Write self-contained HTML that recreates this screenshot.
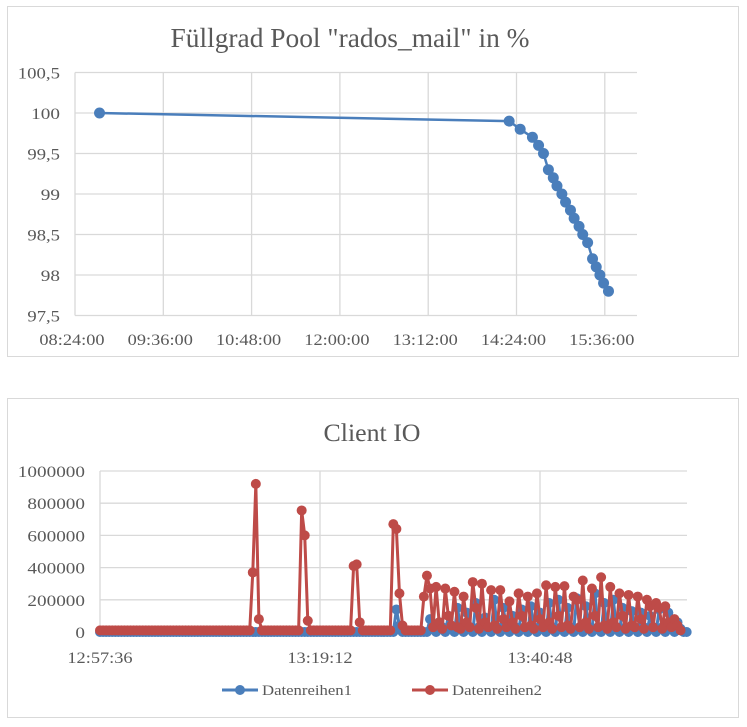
<!DOCTYPE html>
<html><head><meta charset="utf-8"><style>
body{margin:0;background:#fff;}
svg text{font-family:"Liberation Serif",serif;fill:#595959;}
</style></head><body>
<svg width="747" height="722" xmlns="http://www.w3.org/2000/svg">
<rect x="7.5" y="6.5" width="731" height="350" fill="#fff" stroke="#d9d9d9"/>
<text x="350" y="47" font-size="27" text-anchor="middle" textLength="359" lengthAdjust="spacingAndGlyphs">Füllgrad Pool "rados_mail" in %</text>
<g id="top"></g>
<rect x="7.5" y="398.5" width="731" height="319" fill="#fff" stroke="#d9d9d9"/>
<text x="372" y="441" font-size="25" text-anchor="middle" textLength="97" lengthAdjust="spacingAndGlyphs">Client IO</text>
<g id="bot"></g>
<g>
<g><line x1="222" y1="690" x2="258" y2="690" stroke="#4a7ebb" stroke-width="3"/><circle cx="240" cy="690" r="5" fill="#4a7ebb"/><text x="262" y="695" font-size="15" textLength="90" lengthAdjust="spacingAndGlyphs">Datenreihen1</text></g>
<g><line x1="412" y1="690" x2="448" y2="690" stroke="#be4b48" stroke-width="3"/><circle cx="430" cy="690" r="5" fill="#be4b48"/><text x="452" y="695" font-size="15" textLength="90" lengthAdjust="spacingAndGlyphs">Datenreihen2</text></g>
</g>
</svg>
<script>
// ---- Top chart data ----
const topTimes = ["08:44","14:18","14:27","14:37","14:42","14:46","14:50","14:54","14:57","15:01","15:04","15:08","15:11","15:15","15:18","15:22","15:26","15:29","15:32","15:35","15:39"];
const topValues = [100,99.9,99.8,99.7,99.6,99.5,99.3,99.2,99.1,99.0,98.9,98.8,98.7,98.6,98.5,98.4,98.2,98.1,98.0,97.9,97.8];
const topYTicks = ["97,5","98","98,5","99","99,5","100","100,5"];
const topXTicks = ["08:24:00","09:36:00","10:48:00","12:00:00","13:12:00","14:24:00","15:36:00"];
// ---- Bottom chart data (values in thousands, samples every 18 s from 12:57:36) ----
const ioStart = "12:57:36";
const ioStepMin = 0.3;
const series1 = [0,0,0,0,0,0,0,0,0,0,0,0,0,0,0,0,0,0,0,0,0,0,0,0,0,0,0,0,0,0,0,0,0,0,0,0,0,0,0,0,0,0,0,0,0,0,0,0,0,0,
0,0,0,0,0,0,0,0,0,0,0,0,0,0,0,0,0,0,0,0,0,0,0,0,0,0,0,0,0,0,0,0,0,0,0,0,0,0,0,0,0,0,0,0,0,0,0,140,40,0,0,0,0,0,0,0,0,
0,80,30,0,60,30,0,100,30,0,150,30,0,120,30,0,180,30,0,90,30,0,200,30,0,150,30,0,100,30,0,140,30,0,160,30,0,120,30,0,180,30,0,200,30,0,150,30,0,210,30,0,160,30,0,240,30,0,180,30,0,200,30,0,150,30,0,130,30,0,120,30,0,100,30,0,140,30,0,120,30,0,60,20,0,0];
const series2 = [10,10,10,10,10,10,10,10,10,10,10,10,10,10,10,10,10,10,10,10,10,10,10,10,10,10,10,10,10,10,10,10,10,10,10,10,10,10,10,10,10,10,10,10,10,10,10,10,10,10,
370,920,80,10,10,10,10,10,10,10,10,10,10,10,10,10,755,600,70,10,10,10,10,10,10,10,10,10,10,10,10,10,10,410,420,60,10,10,10,10,10,10,10,10,10,10,670,640,240,40,10,10,10,10,10,10,
220,350,270,30,280,60,20,270,100,40,250,30,20,220,60,30,310,150,20,300,60,30,260,40,20,260,80,30,190,60,20,240,100,30,220,40,20,240,80,30,290,60,20,280,100,30,285,40,20,220,200,30,320,60,20,270,100,30,340,40,20,280,60,30,240,100,20,230,40,30,220,80,20,200,160,30,180,150,20,160,60,30,80,40,10];
const ioYTicks = ["0","200000","400000","600000","800000","1000000"];
const ioXTicks = ["12:57:36","13:19:12","13:40:48"];

const NS="http://www.w3.org/2000/svg";
function mk(tag,attrs,parent){const e=document.createElementNS(NS,tag);for(const k in attrs)e.setAttribute(k,attrs[k]);parent.appendChild(e);return e;}
function toMin(s){const p=s.split(":").map(Number);return p[0]*60+p[1]+(p[2]||0)/60;}
function lbl(parent,str,x,y,anchor,name){
 const t=mk("text",{x:x,y:y,"font-size":16,"text-anchor":anchor},parent);t.textContent=str;
 let w=0;for(const ch of str){w+=/[0-9]/.test(ch)?9.6:3.8;}
 t.setAttribute("textLength",w);t.setAttribute("lengthAdjust","spacingAndGlyphs");
 
 
 return t;
}

// Top chart axes
const T=document.getElementById("top");
const tx0=toMin("08:24"), tL=75, tR=637, pxPerMin=88.3/72;
const tX=m=>tL+(m-tx0)*pxPerMin;
const tY=v=>113+(100-v)*81;
topYTicks.forEach((lab,i)=>{const v=97.5+0.5*i;const y=tY(v);
 const g=mk("line",{x1:tL,x2:tR,y1:y,y2:y,stroke:"#d9d9d9","stroke-width":1.3},T);
 
 
 lbl(T,lab,60,y+6,"end",'top-y-tick-label');});
topXTicks.forEach((lab,i)=>{const x=tX(tx0+72*i);
 const g=mk("line",{x1:x,x2:x,y1:tY(100.5),y2:tY(97.5),stroke:"#d9d9d9","stroke-width":1.3},T);
 
 
 lbl(T,lab,x-3,345,"middle",'top-x-tick-label');});
const tpts=topTimes.map((s,i)=>[tX(toMin(s)),tY(topValues[i])]);
const tl=mk("polyline",{points:tpts.map(p=>p.join(",")).join(" "),fill:"none",stroke:"#4a7ebb","stroke-width":2.5},T);


tpts.forEach(p=>{const c=mk("circle",{cx:p[0],cy:p[1],r:5.5,fill:"#4a7ebb"},T);
 
 });

// Bottom chart axes
const B=document.getElementById("bot");
const bL=100,bR=687,pxPerMinB=220/21.6;
const bX=i=>bL+i*ioStepMin*pxPerMinB;
const bY=v=>632-v*1000*(161/1000000);
ioYTicks.forEach((lab,i)=>{const y=bY(i*200);
 const g=mk("line",{x1:bL,x2:bR,y1:y,y2:y,stroke:"#d9d9d9","stroke-width":1.3},B);
 
 
 lbl(B,lab,85,y+6,"end",'io-y-tick-label');});
ioXTicks.forEach((lab,i)=>{const x=bL+(toMin(lab)-toMin(ioStart))*pxPerMinB;
 const g=mk("line",{x1:x,x2:x,y1:bY(1000),y2:bY(0),stroke:"#d9d9d9","stroke-width":1.3},B);
 
 
 lbl(B,lab,x,663,"middle",'io-x-tick-label');});
function drawSeries(vals,color,name){
 const pts=vals.map((v,i)=>[bX(i),bY(v)]);
 const l=mk("polyline",{points:pts.map(p=>p.join(",")).join(" "),fill:"none",stroke:color,"stroke-width":3},B);
 
 
 pts.forEach(p=>{const c=mk("circle",{cx:p[0],cy:p[1],r:5,fill:color},B);
  
  });
}
drawSeries(series1,"#4a7ebb","datenreihen1");
drawSeries(series2,"#be4b48","datenreihen2");
</script>
</body></html>
